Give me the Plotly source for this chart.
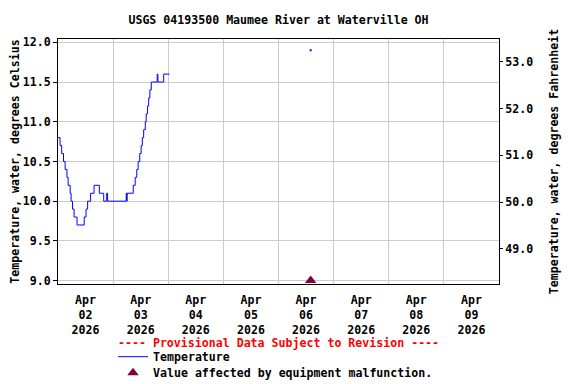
import pandas as pd
import plotly.graph_objects as go

# ---- data ----
start = pd.Timestamp("2026-04-02 00:00")
temp_hours = [0.0, 0.9, 1.6, 2.4, 3.1, 3.9, 4.4, 5.3, 5.7, 6.3, 7.0, 8.3,
              11.4, 12.2, 12.9, 14.2, 15.7, 18.0, 19.9, 21.2, 21.6,
              29.7, 29.9, 30.1, 32.75, 33.6, 34.3, 34.9, 35.6, 36.2, 36.7,
              37.3, 38.0, 38.4, 39.0, 39.5, 40.0, 40.6, 43.2, 43.5, 46.0, 48.5]
temp_values = [10.8, 10.7, 10.6, 10.5, 10.4, 10.3, 10.2, 10.1, 10.0, 9.9, 9.8, 9.7,
               9.8, 9.9, 10.0, 10.1, 10.2, 10.1, 10.0, 10.1, 10.0,
               10.1, 10.0, 10.1, 10.2, 10.3, 10.4, 10.5, 10.6, 10.7, 10.8,
               10.9, 11.0, 11.1, 11.2, 11.3, 11.4, 11.5, 11.6, 11.5, 11.6, 11.6]
isolated_time = ["2026-04-06 14:00"]
isolated_value = [11.9]
malfunction_time = ["2026-04-06 14:00"]
malfunction_value = [9.0]

day_ticks = ["2026-04-02", "2026-04-03", "2026-04-04", "2026-04-05",
             "2026-04-06", "2026-04-07", "2026-04-08", "2026-04-09", "2026-04-10"]
label_days = ["02", "03", "04", "05", "06", "07", "08", "09"]
c_ticks = [9.0, 9.5, 10.0, 10.5, 11.0, 11.5, 12.0]
f_ticks = [49.0, 50.0, 51.0, 52.0, 53.0]

temp_times = [start + pd.Timedelta(hours=h) for h in temp_hours]
label_pos = [pd.Timestamp(d) + pd.Timedelta(hours=12) for d in day_ticks[:-1]]
label_text = [f"Apr<br>{d}<br>2026" for d in label_days]

FONT = "DejaVu Sans Mono"
fs = 11.6

# page body has an 8px default margin: figure is sized/placed to compensate
W, H = 568, 376
PL, PR, PT, PB = 50, 77, 31, 100      # plot area = screen x 58..499, y 39..284
PH = H - PT - PB

fig = go.Figure()
fig.add_trace(go.Scatter(x=temp_times, y=temp_values, mode="lines",
                         line=dict(color="#0000ff", width=1, shape="hv"),
                         name="Temperature", legend="legend"))
fig.add_trace(go.Scatter(x=isolated_time, y=isolated_value, mode="markers",
                         marker=dict(color="#0000ff", size=2, symbol="square"),
                         showlegend=False, hoverinfo="skip"))
fig.add_trace(go.Scatter(x=malfunction_time, y=malfunction_value, mode="markers",
                         marker=dict(color="#800040", size=10, symbol="triangle-up"),
                         cliponaxis=False, legend="legend2",
                         name="Value affected by equipment malfunction."))
# invisible trace to bind the Fahrenheit axis
fig.add_trace(go.Scatter(x=[start], y=[50], yaxis="y2", mode="markers",
                         marker=dict(opacity=0), showlegend=False, hoverinfo="skip"))

leg_common = dict(xanchor="left", yanchor="middle", orientation="v",
                  bgcolor="rgba(0,0,0,0)", font=dict(family=FONT, size=fs),
                  itemwidth=30, tracegroupgap=0)

fig.update_layout(
    template="none",
    width=W, height=H,
    margin=dict(l=PL, r=PR, t=PT, b=PB, pad=0, autoexpand=False),
    paper_bgcolor="white", plot_bgcolor="white",
    font=dict(family=FONT, size=fs, color="black", weight="bold"),
    title=dict(text="USGS 04193500 Maumee River at Waterville OH",
               x=0.5, xref="paper", xanchor="center",
               y=1 - 12 / H, yref="container", yanchor="middle",
               font=dict(family=FONT, size=fs, weight="bold")),
    xaxis=dict(range=[day_ticks[0], day_ticks[-1]], type="date",
               tickmode="array", tickvals=label_pos, ticktext=label_text,
               showgrid=False, ticks="outside", ticklen=5,
               tickcolor="rgba(0,0,0,0)", showline=True, linecolor="black",
               linewidth=1, mirror=True, automargin=False,
               minor=dict(tickmode="array", tickvals=day_ticks, showgrid=True,
                          gridcolor="#cccccc", gridwidth=1, ticks=""),
               tickfont=dict(size=fs), zeroline=False),
    yaxis=dict(range=[8.957, 12.042], tickmode="array", tickvals=c_ticks,
               ticktext=[f"{v:.1f}" for v in c_ticks],
               showgrid=True, gridcolor="#cccccc", gridwidth=1,
               ticks="outside", ticklen=4, tickcolor="black",
               showline=True, linecolor="black", linewidth=1, mirror=True,
               zeroline=False, automargin=False,
               title=dict(text="Temperature, water, degrees Celsius",
                          standoff=7, font=dict(size=fs))),
    yaxis2=dict(range=[48.25, 53.49], overlaying="y", side="right",
                tickmode="array", tickvals=f_ticks,
                ticktext=[f"{v:.1f}" for v in f_ticks],
                showgrid=False, ticks="outside", ticklen=3, tickcolor="black",
                zeroline=False, automargin=False,
                title=dict(text="Temperature, water, degrees Fahrenheit",
                           standoff=17, font=dict(size=fs))),
    legend=dict(x=(113 - 58) / 441, y=-(356.7 - 284) / PH, **leg_common),
    legend2=dict(x=(113 - 58) / 441, y=-(372.7 - 284) / PH, **leg_common),
    showlegend=True,
)

fig.add_annotation(text="---- Provisional Data Subject to Revision ----",
                   x=0.5, xref="paper", y=-(343.3 - 284) / PH, yref="paper",
                   xanchor="center", yanchor="middle", showarrow=False,
                   font=dict(family=FONT, size=fs, color="#ff0000", weight="bold"))

fig.write_html("out.html")
